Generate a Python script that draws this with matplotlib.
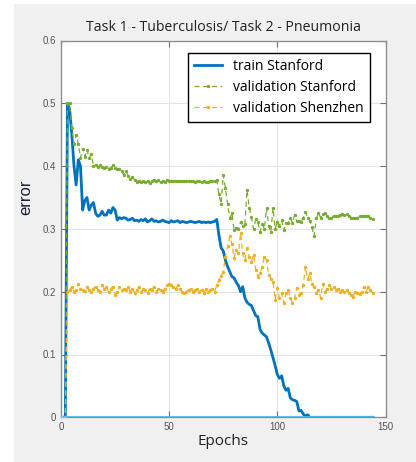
import numpy as np
import matplotlib
matplotlib.use("Agg")
import matplotlib.pyplot as plt
from matplotlib.patches import Rectangle

epochs = list(range(0, 145))

train_stanford = [
    0.0, 0.0, 0.0, 0.50, 0.49, 0.45, 0.40, 0.37, 0.41, 0.40,
    0.33, 0.345, 0.35, 0.33, 0.338, 0.342, 0.325, 0.32, 0.322, 0.328,
    0.322, 0.322, 0.33, 0.325, 0.334, 0.33, 0.314, 0.318, 0.316, 0.318,
    0.317, 0.314, 0.315, 0.317, 0.313, 0.314, 0.312, 0.315, 0.313, 0.316,
    0.311, 0.313, 0.316, 0.312, 0.313, 0.311, 0.312, 0.314, 0.312, 0.311,
    0.310, 0.313, 0.311, 0.312, 0.313, 0.310, 0.312, 0.311, 0.310, 0.311,
    0.312, 0.311, 0.310, 0.311, 0.312, 0.310, 0.311, 0.310, 0.311, 0.310,
    0.311, 0.312, 0.315, 0.290, 0.270, 0.265, 0.250, 0.240, 0.232, 0.224,
    0.222, 0.215, 0.210, 0.200, 0.208, 0.190, 0.183, 0.180, 0.178, 0.170,
    0.162, 0.160, 0.140, 0.134, 0.131, 0.128, 0.118, 0.107, 0.095, 0.082,
    0.068, 0.062, 0.066, 0.050, 0.043, 0.046, 0.031, 0.028, 0.027, 0.025,
    0.010, 0.011, 0.005, 0.002, 0.004, 0.0, 0.0, 0.0, 0.0, 0.0,
    0.0, 0.0, 0.0, 0.0, 0.0, 0.0, 0.0, 0.0, 0.0, 0.0,
    0.0, 0.0, 0.0, 0.0, 0.0, 0.0, 0.0, 0.0, 0.0, 0.0,
    0.0, 0.0, 0.0, 0.0, 0.0,
]

val_stanford = [
    0.0, 0.0, 0.0, 0.50, 0.50, 0.46, 0.435, 0.45, 0.435, 0.413,
    0.428, 0.415, 0.426, 0.413, 0.419, 0.400, 0.402, 0.399, 0.401, 0.398,
    0.397, 0.399, 0.396, 0.397, 0.401, 0.397, 0.396, 0.395, 0.392, 0.386,
    0.392, 0.385, 0.380, 0.383, 0.378, 0.375, 0.376, 0.374, 0.377, 0.375,
    0.376, 0.373, 0.377, 0.378, 0.376, 0.378, 0.374, 0.376, 0.375, 0.378,
    0.377, 0.376, 0.377, 0.377, 0.376, 0.377, 0.377, 0.376, 0.377, 0.376,
    0.377, 0.376, 0.375, 0.376, 0.376, 0.375, 0.376, 0.375, 0.374, 0.376,
    0.377, 0.376, 0.378, 0.355, 0.340, 0.386, 0.365, 0.340, 0.317, 0.325,
    0.298, 0.302, 0.300, 0.311, 0.305, 0.308, 0.362, 0.334, 0.319, 0.300,
    0.315, 0.311, 0.295, 0.308, 0.300, 0.333, 0.305, 0.295, 0.333, 0.300,
    0.311, 0.305, 0.314, 0.298, 0.310, 0.309, 0.318, 0.310, 0.322, 0.312,
    0.313, 0.311, 0.318, 0.327, 0.318, 0.313, 0.303, 0.288, 0.317, 0.325,
    0.318, 0.323, 0.325, 0.321, 0.318, 0.317, 0.321, 0.320, 0.321, 0.322,
    0.323, 0.322, 0.324, 0.321, 0.318, 0.317, 0.317, 0.318, 0.320, 0.321,
    0.320, 0.321, 0.320, 0.318, 0.315,
]

val_shenzhen = [
    0.0, 0.0, 0.0, 0.200, 0.203, 0.208, 0.200, 0.203, 0.213, 0.205,
    0.203, 0.201, 0.208, 0.203, 0.200, 0.205, 0.208, 0.203, 0.200, 0.211,
    0.205, 0.207, 0.200, 0.205, 0.208, 0.195, 0.200, 0.208, 0.203, 0.205,
    0.203, 0.208, 0.200, 0.205, 0.198, 0.203, 0.208, 0.200, 0.205, 0.203,
    0.198, 0.205, 0.203, 0.208, 0.200, 0.205, 0.203, 0.200, 0.205, 0.210,
    0.213, 0.210, 0.207, 0.205, 0.210, 0.205, 0.200, 0.198, 0.200, 0.203,
    0.205, 0.200, 0.203, 0.205, 0.200, 0.203, 0.198, 0.205, 0.200, 0.203,
    0.205, 0.200, 0.210, 0.219, 0.225, 0.232, 0.256, 0.272, 0.288, 0.276,
    0.254, 0.267, 0.261, 0.293, 0.261, 0.250, 0.269, 0.256, 0.248, 0.259,
    0.235, 0.224, 0.229, 0.240, 0.256, 0.250, 0.226, 0.221, 0.216, 0.187,
    0.206, 0.190, 0.198, 0.182, 0.198, 0.203, 0.190, 0.182, 0.190, 0.206,
    0.195, 0.198, 0.210, 0.240, 0.220, 0.229, 0.213, 0.208, 0.198, 0.203,
    0.190, 0.213, 0.200, 0.205, 0.211, 0.205, 0.208, 0.203, 0.205, 0.200,
    0.203, 0.200, 0.203, 0.198, 0.195, 0.192, 0.200, 0.198, 0.196, 0.200,
    0.208, 0.200, 0.208, 0.203, 0.198,
]

baseline = [0.0] * len(epochs)

title = "Task 1 - Tuberculosis/ Task 2 - Pneumonia"
xticks = [0, 50, 100, 150]
yticks = [0, 0.1, 0.2, 0.3, 0.4, 0.5, 0.6]
ytick_labels = ["0", "0.1", "0.2", "0.3", "0.4", "0.5", "0.6"]

W, H = 416, 462
fig = plt.figure(figsize=(W / 100, H / 100), dpi=100, facecolor="#f0f0f0")
fig.patches.append(Rectangle((0, 0), 14 / W, 1, transform=fig.transFigure,
                             facecolor="white", edgecolor="none", zorder=-10))
fig.patches.append(Rectangle((0, 1 - 4 / H), 1, 4 / H, transform=fig.transFigure,
                             facecolor="white", edgecolor="none", zorder=-10))

ax = fig.add_axes([61 / W, (H - 417.3) / H, 324.5 / W, 376.8 / H])
ax.set_facecolor("white")

ax.plot(epochs, train_stanford, color="#0072BD", lw=2.0, label="train Stanford", zorder=3)
ax.plot(epochs, val_stanford, color="#77AC30", lw=0.9, ls=(0, (4, 3)),
        marker=".", ms=2.8, label="validation Stanford", zorder=4)
ax.plot(epochs, val_shenzhen, color="#EDB120", lw=0.9, ls=(0, (4, 3)),
        marker=".", ms=2.8, label="validation Shenzhen", zorder=4)
ax.plot(epochs, baseline, color="#4DBEEE", lw=2.0, zorder=5)

ax.set_xlim(0, 150)
ax.set_ylim(0, 0.6)
ax.set_xticks(xticks)
ax.set_yticks(yticks)
ax.set_yticklabels(ytick_labels)
ax.grid(True, color="#e3e3e3", lw=0.8)
ax.set_axisbelow(True)
ax.tick_params(direction="in", top=True, right=True, length=4, width=0.8,
               colors="#707070", labelsize=7, labelcolor="#555555")
for lab in ax.get_xticklabels() + ax.get_yticklabels():
    lab.set_family("Liberation Sans")
for s in ax.spines.values():
    s.set_color("#8a8a8a")
    s.set_linewidth(0.9)

ax.set_title(title, fontsize=10.2, family="Open Sans", color="#222222", pad=7)
ax.set_xlabel("Epochs", fontsize=11, family="Open Sans", color="#222222", labelpad=1)
ax.set_ylabel("error", fontsize=12, family="Liberation Sans", color="#1a2238")
ax.yaxis.set_label_coords(-0.086, 0.585)

leg = ax.legend(loc="upper left", bbox_to_anchor=(0.391, 0.967), borderaxespad=0,
                frameon=True, fancybox=False, framealpha=1, edgecolor="black",
                prop={"family": "Open Sans", "size": 10}, handlelength=2.0,
                handletextpad=0.8, borderpad=0.45, labelspacing=0.42)
leg.get_frame().set_linewidth(1.0)

fig.savefig("out.png", dpi=100, facecolor=fig.get_facecolor())
